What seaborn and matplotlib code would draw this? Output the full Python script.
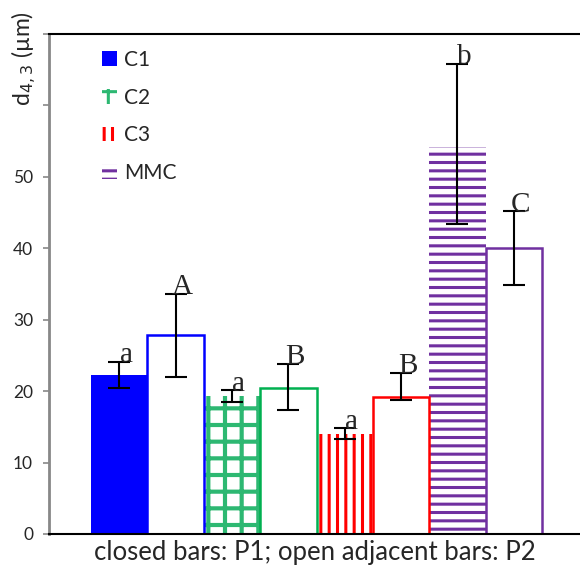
import pandas as pd
import matplotlib
matplotlib.use("Agg")
import matplotlib.pyplot as plt
from matplotlib.patches import Patch
import seaborn as sns

# data
groups = ['C1', 'C2', 'C3', 'MMC']
p1_mean = [22.3, 19.3, 14.0, 54.2]
p2_mean = [27.9, 20.5, 19.2, 40.0]
p1_err_low = [1.8, 0.8, 0.7, 10.8]
p1_err_high = [1.8, 0.8, 0.8, 11.6]
p2_err_low = [5.9, 3.2, 0.5, 5.2]
p2_err_high = [5.7, 3.3, 3.4, 5.2]
p1_letters = ['a', 'a', 'a', 'b']
p2_letters = ['A', 'B', 'B', 'C']
colors = ['#0000FF', '#00B050', '#FF0000', '#7030A0']
hatch_colors = ['#0000FF', '#2DB872', '#FF0000', '#7030A0']
hatches = ['', '+', '||', '--']

df = pd.DataFrame({
    'group': groups * 2,
    'period': ['P1'] * 4 + ['P2'] * 4,
    'value': p1_mean + p2_mean,
})

sns.set_style('ticks')
plt.rcParams['font.family'] = ['Lato', 'DejaVu Sans']
plt.rcParams['hatch.linewidth'] = 2.2

fig = plt.figure(figsize=(5.8, 5.7), dpi=100)
ax = fig.add_axes([0.0845, 0.0632, 0.9155, 0.8772])

sns.barplot(data=df, x='group', y='value', hue='period', width=1,
            errorbar=None, legend=False, ax=ax)

# closed bars (P1)
for bar, c, h in zip(ax.containers[0], hatch_colors, hatches):
    if h == '':
        bar.set_facecolor(c)
        bar.set_edgecolor(c)
    else:
        bar.set_facecolor('white')
        bar.set_edgecolor(c)
        bar.set_hatch(h)
        if h == '+' and hasattr(bar, 'set_hatch_linewidth'):
            bar.set_hatch_linewidth(3.0)
    bar.set_linewidth(0)

# open bars (P2)
for bar, c in zip(ax.containers[1], colors):
    bar.set_facecolor('white')
    bar.set_edgecolor(c)
    bar.set_linewidth(1.8)

# error bars + letters
for cont, means, lo, hi, letters in [
        (ax.containers[0], p1_mean, p1_err_low, p1_err_high, p1_letters),
        (ax.containers[1], p2_mean, p2_err_low, p2_err_high, p2_letters)]:
    xs = [b.get_x() + b.get_width() / 2 for b in cont]
    ax.errorbar(xs, means, yerr=[lo, hi], fmt='none', ecolor='black',
                elinewidth=1.5, capsize=8, capthick=1.5, zorder=5)
    for x, m, h, t in zip(xs, means, hi, letters):
        ax.text(x + 0.06, m + h - 0.9, t, ha='center', va='bottom',
                fontsize=21, family='Liberation Serif', zorder=6)

ax.set_xlim(-0.873, 3.837)
ax.set_ylim(0, 70)
ax.set_yticks(range(0, 71, 10))
ax.set_yticklabels(['0', '10', '20', '30', '40', '50', '', ''])
ax.set_xticks([])
ax.set_xlabel('closed bars: P1; open adjacent bars: P2', fontsize=18.5, labelpad=4)
ax.set_ylabel('')
ax.tick_params(axis='y', labelsize=12.5, length=4.5, width=1.2, color='#888888', pad=7)

ax.spines['left'].set_color('#888888')
ax.spines['left'].set_linewidth(2)
ax.spines['bottom'].set_color('black')
ax.spines['bottom'].set_linewidth(1.5)
ax.spines['top'].set_visible(True)
ax.spines['top'].set_color('black')
ax.spines['top'].set_linewidth(1.5)
ax.spines['right'].set_visible(False)

fig.text(0.04, 1 - 59 / 570, r'd$_{4,3}$ (µm)', rotation=90,
         ha='center', va='center', fontsize=16.5)

handles = []
for c, h in zip(hatch_colors, hatches):
    if h == '':
        handles.append(Patch(facecolor=c, edgecolor=c, linewidth=0))
    else:
        handles.append(Patch(facecolor='white', edgecolor=c, hatch=h, linewidth=0))
ax.legend(handles, groups, loc='upper left', bbox_to_anchor=(0.085, 0.985),
          frameon=False, fontsize=15, handlelength=0.7, handleheight=0.7,
          handletextpad=0.35, labelspacing=0.85, borderaxespad=0)

fig.savefig('out.png', dpi=100)
